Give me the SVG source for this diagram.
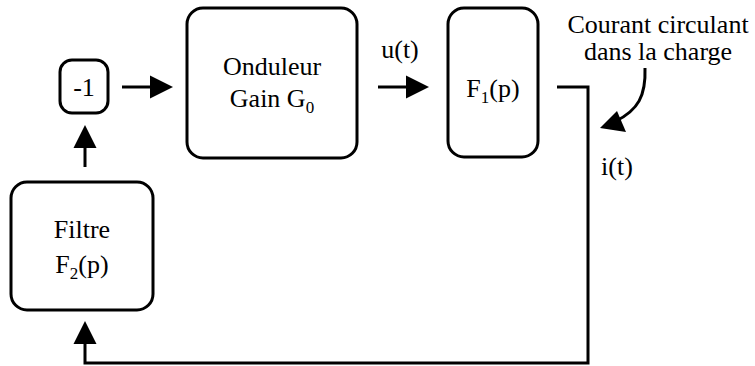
<svg xmlns="http://www.w3.org/2000/svg" width="755" height="366" viewBox="0 0 755 366">
<style>
.box{fill:#fff;stroke:#000;stroke-width:3}
.ln{fill:none;stroke:#000;stroke-width:3}
.ah{fill:#000;stroke:none}
</style>
<g id="connectors">
<line class="ln" x1="122" y1="87" x2="152" y2="87"/>
<polygon class="ah" points="173,87 150,75.5 150,98.5"/>
<line class="ln" x1="378" y1="87" x2="408" y2="87"/>
<polygon class="ah" points="429,87 406,75.5 406,98.5"/>
<line class="ln" x1="85" y1="167" x2="85" y2="145"/>
<polygon class="ah" points="85,125 73.5,148 96.5,148"/>
<polyline class="ln" points="557,87 588,87 588,363 85,363 85,340"/>
<polygon class="ah" points="85,321 73.5,344 96.5,344"/>
<path class="ln" d="M645,68 C646,96 638,110 616,121"/>
<polygon class="ah" points="600,128 617,111 626,132"/>
</g>
<g font-family="Liberation Serif, DejaVu Serif, serif" font-size="26" fill="#000" text-anchor="middle">
<g id="neg">
<rect class="box" x="60" y="60" width="48" height="53" rx="12"/>
<text x="84" y="96">-1</text>
</g>
<g id="onduleur">
<rect class="box" x="187" y="8" width="170" height="150" rx="16"/>
<text x="272" y="75">Onduleur</text>
<text x="272" y="107">Gain G<tspan font-size="17" dy="6">0</tspan></text>
</g>
<g id="f1">
<rect class="box" x="448" y="8" width="90" height="149" rx="16"/>
<text x="493" y="97">F<tspan font-size="17" dy="6">1</tspan><tspan dy="-6">(p)</tspan></text>
</g>
<g id="filtre">
<rect class="box" x="11" y="182" width="142" height="128" rx="16"/>
<text x="82" y="238">Filtre</text>
<text x="82" y="273">F<tspan font-size="17" dy="6">2</tspan><tspan dy="-6">(p)</tspan></text>
</g>
<text x="400" y="58">u(t)</text>
<text x="617" y="175">i(t)</text>
<text x="658" y="33">Courant circulant</text>
<text x="658" y="60">dans la charge</text>
</g>
</svg>
